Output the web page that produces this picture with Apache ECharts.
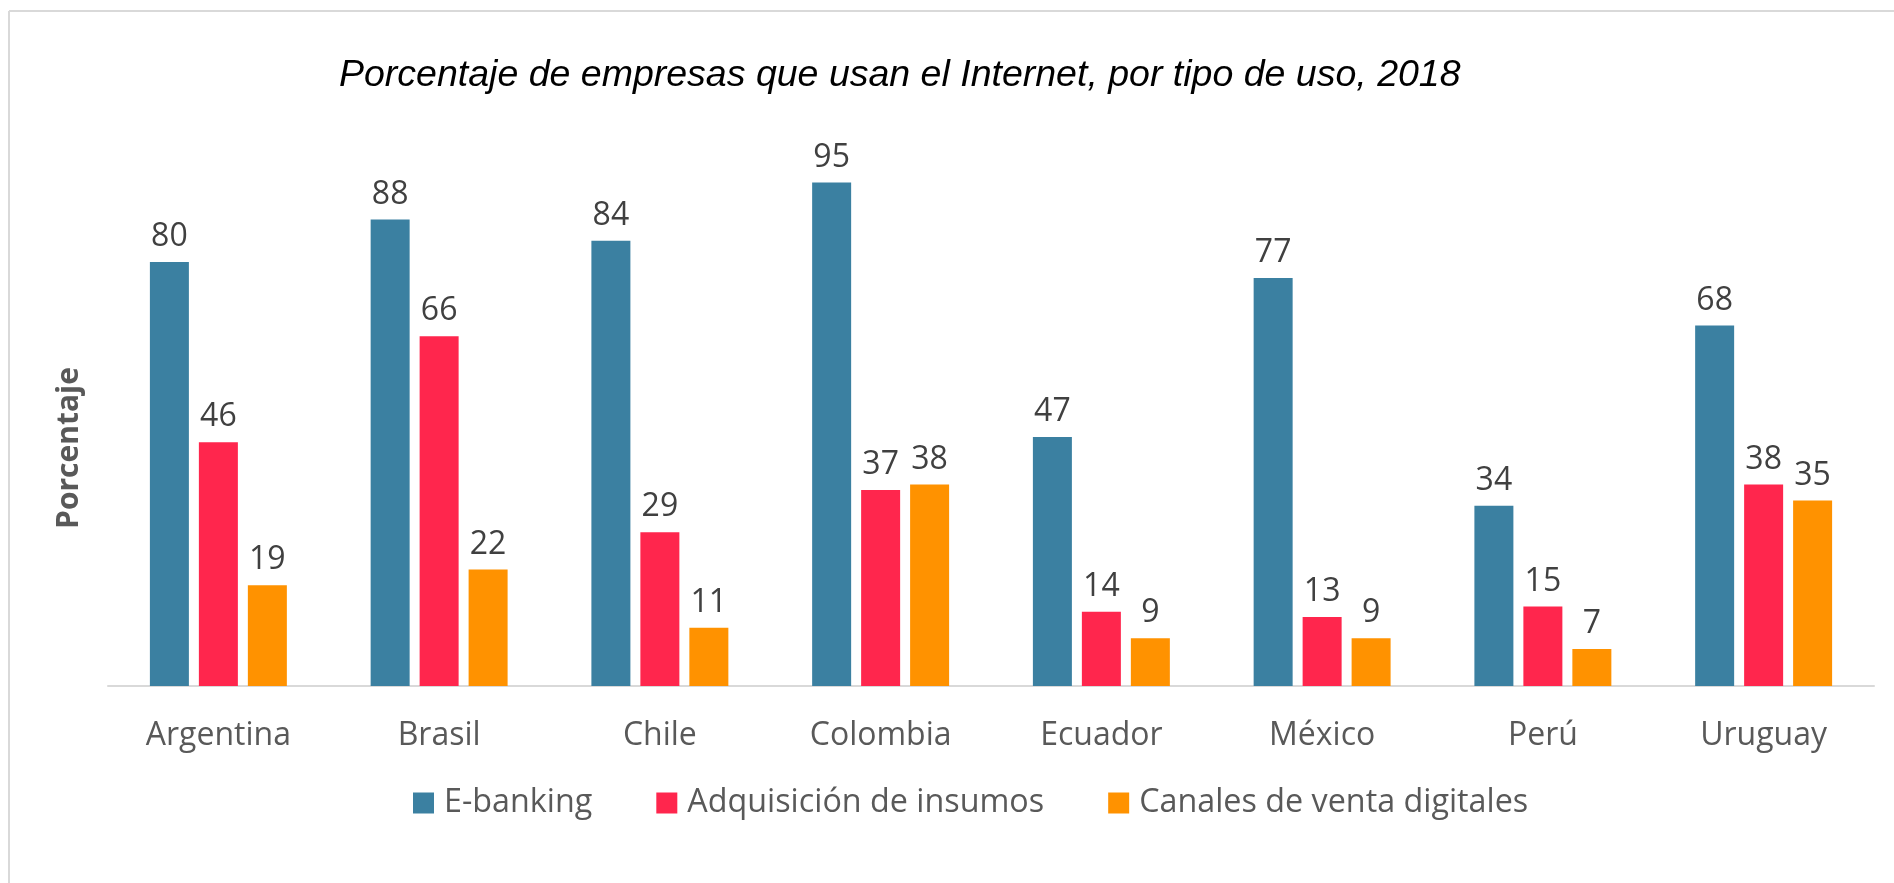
<!DOCTYPE html>
<html>
<head>
<meta charset="utf-8">
<style>
  html, body { margin: 0; padding: 0; background: #ffffff; }
  #chart { width: 1894px; height: 883px; }
</style>
<script src="https://cdn.jsdelivr.net/npm/echarts@6/dist/echarts.min.js"></script>
</head>
<body>
<div id="chart"></div>
<script>
const categories = ['Argentina', 'Brasil', 'Chile', 'Colombia', 'Ecuador', 'México', 'Perú', 'Uruguay'];
const seriesNames = ['E-banking', 'Adquisición de insumos', 'Canales de venta digitales'];
const eBanking = [80, 88, 84, 95, 47, 77, 34, 68];
const adquisicion = [46, 66, 29, 37, 14, 13, 15, 38];
const canales = [19, 22, 11, 38, 9, 9, 7, 35];
const colors = ['#3B80A1', '#FF264D', '#FF9200'];
const titleText = 'Porcentaje de empresas que usan el Internet, por tipo de uso, 2018';
const yAxisTitle = 'Porcentaje';

const chart = echarts.init(document.getElementById('chart'), null, { renderer: 'canvas' });

const seriesData = [eBanking, adquisicion, canales];
const series = seriesData.map((d, i) => ({
  name: seriesNames[i],
  type: 'bar',
  data: d,
  barWidth: 39,
  barGap: '25.6%',
  itemStyle: { color: colors[i] },
  label: {
    show: true,
    position: 'top',
    distance: 9,
    color: '#404040',
    fontFamily: 'Open Sans',
    fontSize: 32
  },
  emphasis: { disabled: true }
}));

chart.setOption({
  animation: false,
  backgroundColor: '#ffffff',
  title: {
    text: titleText,
    left: 339,
    top: 57,
    padding: 0,
    textStyle: {
      fontFamily: 'Liberation Sans',
      fontStyle: 'italic',
      fontWeight: 'normal',
      fontSize: 37.5,
      color: '#000000'
    }
  },
  legend: {
    data: seriesNames,
    left: 413,
    top: 787,
    padding: 0,
    itemWidth: 21,
    itemHeight: 21,
    itemGap: 64,
    icon: 'rect',
    textStyle: {
      fontFamily: 'Open Sans',
      fontSize: 32.3,
      color: '#595959',
      padding: [0, 0, 0, 5]
    }
  },
  grid: { left: 108, right: 20, top: 156, bottom: 197, containLabel: false },
  xAxis: {
    type: 'category',
    data: categories,
    axisLine: { lineStyle: { color: '#d9d9d9', width: 2 } },
    axisTick: { show: false },
    axisLabel: {
      margin: 34,
      fontFamily: 'Open Sans',
      fontSize: 32,
      color: '#595959'
    }
  },
  yAxis: {
    type: 'value',
    min: 0,
    max: 100,
    axisLine: { show: false },
    axisTick: { show: false },
    axisLabel: { show: false },
    splitLine: { show: false }
  },
  graphic: [
    { type: 'line', shape: { x1: 9, y1: 11, x2: 1894, y2: 11 }, style: { stroke: '#d9d9d9', lineWidth: 2 }, silent: true },
    { type: 'line', shape: { x1: 9, y1: 11, x2: 9, y2: 883 }, style: { stroke: '#d9d9d9', lineWidth: 2 }, silent: true },
    {
      type: 'text',
      x: 69,
      y: 448,
      rotation: Math.PI / 2,
      style: {
        text: yAxisTitle,
        fontFamily: 'Open Sans',
        fontWeight: 'bold',
        fontSize: 30,
        fill: '#595959',
        textAlign: 'center',
        textVerticalAlign: 'middle'
      },
      silent: true
    }
  ],
  series: series
});
</script>
</body>
</html>
